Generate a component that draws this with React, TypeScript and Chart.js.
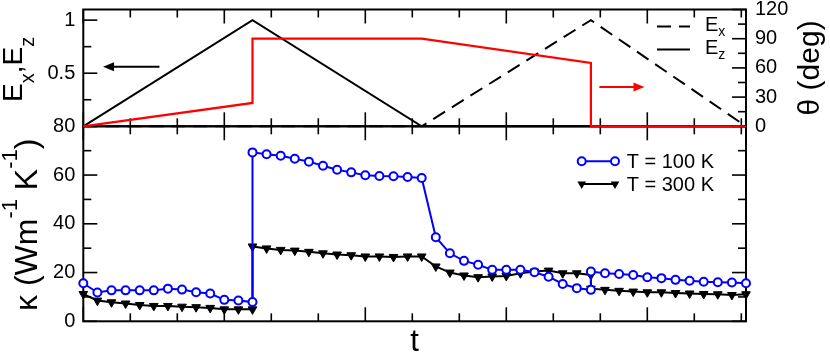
import React, { useEffect, useRef } from "react";
import { Chart, registerables } from "chart.js";

Chart.register(...registerables);

const FONT = '"Liberation Sans", Arial, Helvetica, sans-serif';

// ---------- data ----------
// time steps shared by both kappa series (repeated entries = vertical jumps)
const tSteps = [
  0, 1, 2, 3, 4, 5, 6, 7, 8, 9, 10, 11, 12,
  12, 13, 14, 15, 16, 17, 18, 19, 20, 21, 22, 23, 24, 25, 26, 27, 28, 29, 30, 31, 32, 33, 34, 35, 36,
  36, 37, 38, 39, 40, 41, 42, 43, 44, 45, 46, 47,
];
const kappa100K = [
  15.6, 11.8, 12.7, 12.7, 12.7, 12.7, 13.4, 13.0, 11.9, 11.4, 8.8, 8.5, 7.9,
  69.3, 68.5, 67.9, 66.7, 65.5, 63.8, 62.2, 61.1, 59.9, 59.6, 59.5, 59.2, 58.8, 34.5, 27.9, 24.8, 23.2, 21.1, 21.1, 21.1, 20.1, 18.3, 15.3, 13.6, 12.9,
  20.4, 19.7, 19.4, 19.0, 18.1, 17.7, 17.0, 16.6, 16.2, 16.0, 15.9, 15.6,
];
const kappa300K = [
  11.2, 8.5, 7.8, 7.3, 6.7, 6.3, 6.3, 6.0, 5.8, 5.5, 4.9, 4.9, 4.9,
  30.7, 29.9, 29.3, 29.0, 28.5, 27.9, 27.4, 27.1, 26.6, 26.6, 26.4, 26.6, 26.6, 22.5, 20.0, 18.8, 18.1, 18.4, 18.6, 19.7, 20.4, 20.8, 19.7, 19.7, 19.0,
  13.4, 12.9, 12.5, 12.2, 11.9, 11.9, 11.6, 11.4, 11.2, 11.1, 10.8, 11.1,
];

const exT = [0, 24, 36, 47];
const exVal = [0, 0, 1, 0];
const ezT = [0, 12, 24, 47];
const ezVal = [0, 1, 0, 0];
const thetaT = [0, 12, 12, 24, 36, 36, 47];
const thetaVal = [0, 24, 90, 90, 65, 0, 0];

// ticks
const xMajorTicks = [0, 10, 20, 30, 40];
const xMinorTicks = [3.333, 6.667, 13.333, 16.667, 23.333, 26.667, 33.333, 36.667, 43.333, 46.667];
const eMajorTicks = [0, 0.5, 1];
const eMinorTicks = [0.25, 0.75];
const eLabelTicks = [0.5, 1];
const thetaMajorTicks = [0, 30, 60, 90, 120];
const thetaMinorTicks = [15, 45, 75, 105];
const kMajorTicks = [0, 20, 40, 60, 80];
const kMinorTicks = [10, 30, 50, 70];

// axis ranges (top panel = upper share of the plot height)
const E_MAX = 1.1;
const THETA_MAX = 120;
const K_MAX = 80;
const TOP_SHARE = 0.3746;

// arrows (data coordinates)
const arrowE = { from: 5.4, to: 1.4, y: 0.56 };
const arrowTheta = { from: 36.6, to: 39.8, y: 40.5 };

const pts = (xs: number[], ys: number[]) => xs.map((x, i) => ({ x, y: ys[i] }));

type Part = { text: string; size: number; dy?: number };
function drawRich(ctx: CanvasRenderingContext2D, parts: Part[], x: number, y: number, rotate: boolean, align: "center" | "left" = "center") {
  ctx.save();
  ctx.translate(x, y);
  if (rotate) ctx.rotate(-Math.PI / 2);
  let total = 0;
  const widths = parts.map((p) => {
    ctx.font = `${p.size}px ${FONT}`;
    const w = ctx.measureText(p.text).width;
    total += w;
    return w;
  });
  let u = align === "center" ? -total / 2 : 0;
  ctx.textBaseline = "alphabetic";
  ctx.textAlign = "left";
  ctx.fillStyle = "#000";
  parts.forEach((p, i) => {
    ctx.font = `${p.size}px ${FONT}`;
    ctx.fillText(p.text, u, p.dy || 0);
    u += widths[i];
  });
  ctx.restore();
}

function drawArrow(ctx: CanvasRenderingContext2D, x0: number, x1: number, y: number, color: string) {
  const dir = Math.sign(x1 - x0);
  const head = 11;
  ctx.save();
  ctx.setLineDash([]);
  ctx.strokeStyle = color;
  ctx.fillStyle = color;
  ctx.lineWidth = 2;
  ctx.beginPath();
  ctx.moveTo(x0, y);
  ctx.lineTo(x1 - dir * head * 0.8, y);
  ctx.stroke();
  ctx.beginPath();
  ctx.moveTo(x1, y);
  ctx.lineTo(x1 - dir * head, y - 4.5);
  ctx.lineTo(x1 - dir * head, y + 4.5);
  ctx.closePath();
  ctx.fill();
  ctx.restore();
}

function drawFrameAndTicks(chart: any) {
  const ctx: CanvasRenderingContext2D = chart.ctx;
  const ca = chart.chartArea;
  const sx = chart.scales.x;
  const sE = chart.scales.yE;
  const sT = chart.scales.yT;
  const sK = chart.scales.yK;
  const mid1 = sE.getPixelForValue(0);
  const mid2 = sK.getPixelForValue(K_MAX);
  const MAJ = 14;
  const MIN = 8;
  const W = 1.6;
  ctx.save();
  ctx.setLineDash([]);
  ctx.fillStyle = "#000";
  const xt = (v: number, len: number) => {
    const p = sx.getPixelForValue(v);
    ctx.fillRect(p - W / 2, ca.top, W, len);
    ctx.fillRect(p - W / 2, mid1 - len, W, len);
    ctx.fillRect(p - W / 2, mid2, W, len);
    ctx.fillRect(p - W / 2, ca.bottom - len, W, len);
  };
  xMajorTicks.forEach((v) => xt(v, MAJ));
  xMinorTicks.forEach((v) => xt(v, MIN));
  const yl = (s: any, v: number, len: number) => {
    const p = s.getPixelForValue(v);
    ctx.fillRect(ca.left, p - W / 2, len, W);
  };
  const yr = (s: any, v: number, len: number) => {
    const p = s.getPixelForValue(v);
    ctx.fillRect(ca.right - len, p - W / 2, len, W);
  };
  eMajorTicks.forEach((v) => yl(sE, v, MAJ));
  eMinorTicks.forEach((v) => yl(sE, v, MIN));
  thetaMajorTicks.forEach((v) => yr(sT, v, MAJ));
  thetaMinorTicks.forEach((v) => yr(sT, v, MIN));
  kMajorTicks.forEach((v) => {
    yl(sK, v, MAJ);
    yr(sK, v, MAJ);
  });
  kMinorTicks.forEach((v) => {
    yl(sK, v, MIN);
    yr(sK, v, MIN);
  });
  ctx.strokeStyle = "#000";
  ctx.lineWidth = 2;
  ctx.strokeRect(ca.left, ca.top, ca.right - ca.left, mid1 - ca.top);
  ctx.strokeRect(ca.left, mid2, ca.right - ca.left, ca.bottom - mid2);
  ctx.restore();
}

const tickFont = { family: FONT, size: 20 };
const fixWidth = (w: number) => (s: any) => {
  s.width = w;
  s.paddingTop = 0;
  s.paddingBottom = 0;
};

function makeConfig(): any {
  return {
    type: "line",
    data: {
      datasets: [
        {
          label: "T = 100 K",
          data: pts(tSteps, kappa100K),
          yAxisID: "yK",
          borderColor: "#0000ff",
          borderWidth: 2,
          pointStyle: "circle",
          pointRadius: 4,
          pointBorderWidth: 2,
          pointBorderColor: "#0000ff",
          pointBackgroundColor: "#ffffff",
          clip: false,
        },
        {
          label: "T = 300 K",
          data: pts(tSteps, kappa300K),
          yAxisID: "yK",
          borderColor: "#000000",
          borderWidth: 2,
          pointStyle: "triangle",
          pointRotation: 180,
          pointRadius: 5,
          pointBorderWidth: 1,
          pointBorderColor: "#000",
          pointBackgroundColor: "#000",
          clip: false,
        },
        {
          label: "theta",
          data: pts(thetaT, thetaVal),
          yAxisID: "yT",
          borderColor: "#ff0000",
          borderWidth: 2.2,
          pointRadius: 0,
          clip: false,
        },
        {
          label: "Ex",
          data: pts(exT, exVal),
          yAxisID: "yE",
          borderColor: "#000",
          borderWidth: 2,
          borderDash: [14, 8],
          pointRadius: 0,
          clip: false,
        },
        {
          label: "Ez",
          data: pts(ezT, ezVal),
          yAxisID: "yE",
          borderColor: "#000",
          borderWidth: 2,
          pointRadius: 0,
          clip: false,
        },
      ],
    },
    options: {
      animation: false,
      responsive: false,
      events: [],
      layout: { padding: { left: 0, right: 0, top: 9.5, bottom: 32.7 } },
      plugins: { legend: { display: false }, tooltip: { enabled: false } },
      scales: {
        x: { type: "linear", min: 0, max: 47, display: false },
        yK: {
          type: "linear",
          position: "left",
          min: 0,
          max: K_MAX / (1 - TOP_SHARE),
          afterFit: fixWidth(83.3),
          afterBuildTicks: (s: any) => { s.ticks = kMajorTicks.map((v) => ({ value: v })); },
          grid: { display: false, drawTicks: false },
          border: { display: false },
          ticks: { autoSkip: false, padding: 8, color: "#000", font: tickFont, callback: (v: number) => String(v) },
        },
        yT: {
          type: "linear",
          position: "right",
          min: (-THETA_MAX * (1 - TOP_SHARE)) / TOP_SHARE,
          max: THETA_MAX,
          afterFit: fixWidth(84),
          afterBuildTicks: (s: any) => { s.ticks = thetaMajorTicks.map((v) => ({ value: v })); },
          grid: { display: false, drawTicks: false },
          border: { display: false },
          ticks: { autoSkip: false, padding: 9, color: "#000", font: tickFont, callback: (v: number) => String(v) },
        },
        yE: {
          type: "linear",
          position: "left",
          display: false,
          min: (-E_MAX * (1 - TOP_SHARE)) / TOP_SHARE,
          max: E_MAX,
        },
      },
    },
    plugins: [
      {
        id: "deco",
        beforeDatasetsDraw(chart: any) {
          drawFrameAndTicks(chart);
        },
        afterDraw(chart: any) {
          const ctx: CanvasRenderingContext2D = chart.ctx;
          const ca = chart.chartArea;
          const sx = chart.scales.x;
          const sE = chart.scales.yE;
          const sT = chart.scales.yT;
          const sK = chart.scales.yK;
          const mid1 = sE.getPixelForValue(0);
          const mid2 = sK.getPixelForValue(K_MAX);

          // left labels of the upper panel
          ctx.save();
          ctx.fillStyle = "#000";
          ctx.font = `20px ${FONT}`;
          ctx.textAlign = "right";
          ctx.textBaseline = "middle";
          eLabelTicks.forEach((v) => ctx.fillText(String(v), ca.left - 8, sE.getPixelForValue(v)));
          ctx.restore();

          // arrows
          drawArrow(ctx, sx.getPixelForValue(arrowE.from), sx.getPixelForValue(arrowE.to), sE.getPixelForValue(arrowE.y), "#000");
          drawArrow(ctx, sx.getPixelForValue(arrowTheta.from), sx.getPixelForValue(arrowTheta.to), sT.getPixelForValue(arrowTheta.y), "#ff0000");

          // upper legend
          {
            const lx0 = ca.right - 89;
            const lx1 = ca.right - 56;
            const y1 = ca.top + 17;
            const y2 = ca.top + 40;
            ctx.save();
            ctx.strokeStyle = "#000";
            ctx.lineWidth = 2;
            ctx.setLineDash([14, 8]);
            ctx.beginPath();
            ctx.moveTo(lx0, y1);
            ctx.lineTo(lx1, y1);
            ctx.stroke();
            ctx.setLineDash([]);
            ctx.beginPath();
            ctx.moveTo(lx0, y2);
            ctx.lineTo(lx1, y2);
            ctx.stroke();
            ctx.restore();
            drawRich(ctx, [{ text: "E", size: 20 }, { text: "x", size: 14, dy: 5 }], ca.right - 41, y1 + 4, false, "left");
            drawRich(ctx, [{ text: "E", size: 20 }, { text: "z", size: 14, dy: 5 }], ca.right - 41, y2 + 4, false, "left");
          }

          // lower legend
          {
            const lx0 = ca.right - 164.3;
            const lx1 = ca.right - 131;
            const y1 = mid2 + 35;
            const y2 = mid2 + 57.7;
            ctx.save();
            ctx.setLineDash([]);
            ctx.lineWidth = 2;
            ctx.strokeStyle = "#0000ff";
            ctx.beginPath();
            ctx.moveTo(lx0, y1);
            ctx.lineTo(lx1, y1);
            ctx.stroke();
            [lx0, lx1].forEach((x) => {
              ctx.beginPath();
              ctx.arc(x, y1, 4, 0, Math.PI * 2);
              ctx.fillStyle = "#fff";
              ctx.fill();
              ctx.stroke();
            });
            ctx.strokeStyle = "#000";
            ctx.beginPath();
            ctx.moveTo(lx0, y2);
            ctx.lineTo(lx1, y2);
            ctx.stroke();
            ctx.fillStyle = "#000";
            [lx0, lx1].forEach((x) => {
              const r = 5;
              ctx.beginPath();
              ctx.moveTo(x, y2 + r);
              ctx.lineTo(x - r * 0.866, y2 - r / 2);
              ctx.lineTo(x + r * 0.866, y2 - r / 2);
              ctx.closePath();
              ctx.fill();
            });
            ctx.font = `20px ${FONT}`;
            ctx.textBaseline = "middle";
            ctx.textAlign = "left";
            ctx.fillText("T = 100 K", ca.right - 119.3, y1 + 1);
            ctx.fillText("T = 300 K", ca.right - 119.3, y2 + 1);
            ctx.restore();
          }

          // axis titles
          const cyTop = (ca.top + mid1) / 2;
          const cyBot = (mid2 + ca.bottom) / 2;
          drawRich(
            ctx,
            [
              { text: "E", size: 28 },
              { text: "x", size: 20, dy: 12 },
              { text: ",", size: 28 },
              { text: "E", size: 28 },
              { text: "z", size: 20, dy: 12 },
            ],
            22,
            cyTop + 1.5,
            true
          );
          drawRich(ctx, [{ text: "θ (deg)", size: 30 }], 819, cyTop, true);
          drawRich(
            ctx,
            [
              { text: "κ (Wm", size: 32 },
              { text: "-1", size: 22, dy: -20 },
              { text: " K", size: 32 },
              { text: "-1", size: 22, dy: -20 },
              { text: ")", size: 32 },
            ],
            37,
            cyBot + 1,
            true
          );
          drawRich(ctx, [{ text: "t", size: 31 }], (ca.left + ca.right) / 2, 351, false);
        },
      },
    ],
  };
}

export default function App() {
  const ref = useRef<HTMLCanvasElement>(null);
  useEffect(() => {
    const chart = new Chart(ref.current as HTMLCanvasElement, makeConfig());
    return () => {
      chart.destroy();
    };
  }, []);
  return (
    <div style={{ position: "absolute", left: 0, top: 0, width: 830, height: 354, background: "#fff" }}>
      <canvas ref={ref} width={830} height={354} style={{ position: "absolute", left: 0, top: 0 }} />
    </div>
  );
}
